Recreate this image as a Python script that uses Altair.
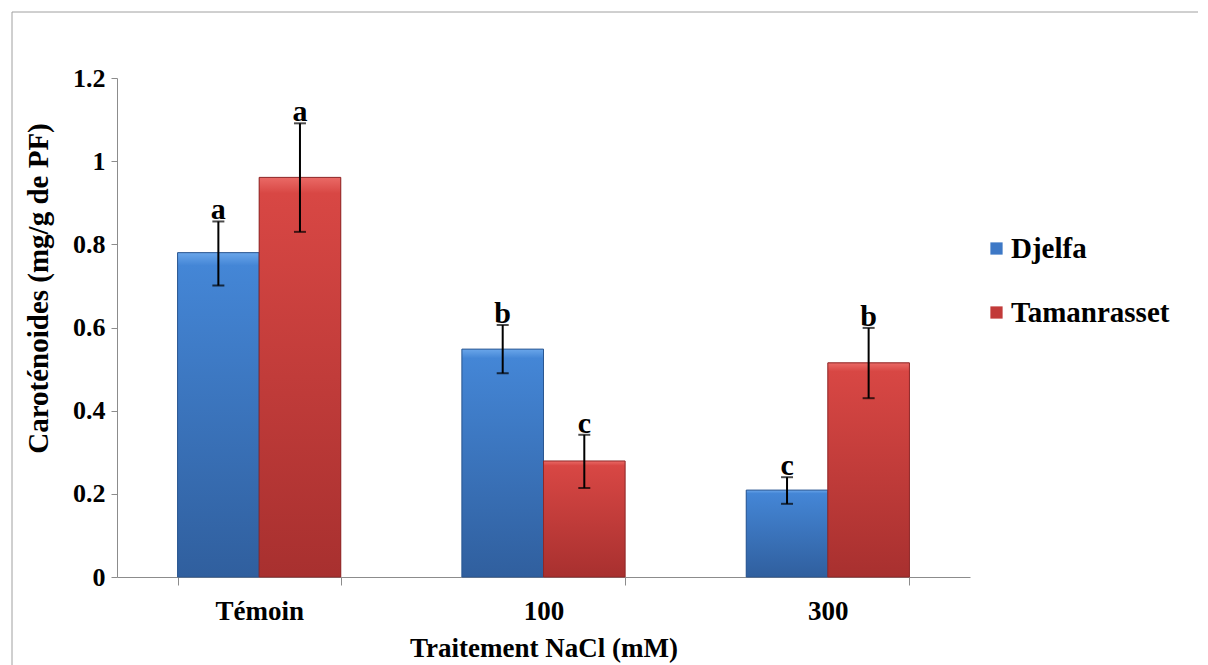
import altair as alt
import pandas as pd

categories = ["Témoin", "100", "300"]
series = ["Djelfa", "Tamanrasset"]
djelfa = [0.78, 0.548, 0.209]
tamanrasset = [0.961, 0.279, 0.515]
djelfa_lo = [0.701, 0.49, 0.176]
djelfa_hi = [0.855, 0.606, 0.24]
tam_lo = [0.830, 0.214, 0.43]
tam_hi = [1.091, 0.342, 0.599]
letters_djelfa = ["a", "b", "c"]
letters_tam = ["a", "c", "b"]
y_ticks = [0, 0.2, 0.4, 0.6, 0.8, 1, 1.2]

rows = []
for i, c in enumerate(categories):
    rows.append(dict(cat=c, series="Djelfa", value=djelfa[i], lo=djelfa_lo[i], hi=djelfa_hi[i], letter=letters_djelfa[i]))
    rows.append(dict(cat=c, series="Tamanrasset", value=tamanrasset[i], lo=tam_lo[i], hi=tam_hi[i], letter=letters_tam[i]))
df = pd.DataFrame(rows)

FONT = "Liberation Serif"
W, H = 853, 499

x_enc = alt.X("cat:N", sort=categories,
              scale=alt.Scale(paddingInner=0.426, paddingOuter=0.213),
              axis=alt.Axis(title="Traitement NaCl (mM)", tickBand="extent", tickSize=8,
                            labelAngle=0, labelPadding=13, titlePadding=11,
                            labelFontSize=27, titleFontSize=27))
xo_enc = alt.XOffset("series:N", sort=series, scale=alt.Scale(paddingInner=0, paddingOuter=0))
y_enc = alt.Y("value:Q", scale=alt.Scale(domain=[0, 1.2], nice=False),
              axis=alt.Axis(title="Caroténoides  (mg/g de PF)", values=y_ticks, format="~g",
                            tickSize=6, labelPadding=6, titlePadding=19, titleY=210,
                            labelFontSize=26, titleFontSize=29))

base = alt.Chart(df)

legend_bars = base.mark_bar().encode(
    x=x_enc, xOffset=xo_enc, y=y_enc,
    color=alt.Color("series:N", sort=series,
                    scale=alt.Scale(domain=series, range=["#3d78c6", "#c23a39"]),
                    legend=alt.Legend(title=None, orient="none", legendX=865, legendY=156,
                                      symbolType="square", symbolSize=150, symbolStrokeWidth=0,
                                      labelFontSize=29, labelFont=FONT, labelFontWeight="bold",
                                      labelColor="black", rowPadding=34, labelOffset=0))
)

def grad(top, mid, bottom):
    return alt.Gradient(gradient="linear", x1=0, x2=0, y1=0, y2=1,
                        stops=[alt.GradientStop(color=top, offset=0),
                               alt.GradientStop(color=mid, offset=0.04),
                               alt.GradientStop(color=bottom, offset=1)])

blue_bars = base.transform_filter(alt.datum.series == "Djelfa").mark_bar(
    fill=grad("#6aa6ea", "#4486d6", "#305f9e"), stroke="#2b5791", strokeWidth=1
).encode(x=x_enc, xOffset=xo_enc, y=y_enc)

red_bars = base.transform_filter(alt.datum.series == "Tamanrasset").mark_bar(
    fill=grad("#ea6a66", "#d84744", "#a8302f"), stroke="#8e2828", strokeWidth=1
).encode(x=x_enc, xOffset=xo_enc, y=y_enc)

ysc = alt.Scale(domain=[0, 1.2], nice=False)
err = base.mark_rule(color="black", strokeWidth=2).encode(
    x=x_enc, xOffset=xo_enc, y=alt.Y("lo:Q", scale=ysc), y2="hi:Q")
cap_hi = base.mark_tick(color="black", thickness=2, size=12, orient="horizontal").encode(
    x=x_enc, xOffset=xo_enc, y=alt.Y("hi:Q", scale=ysc))
cap_lo = base.mark_tick(color="black", thickness=2, size=12, orient="horizontal").encode(
    x=x_enc, xOffset=xo_enc, y=alt.Y("lo:Q", scale=ysc))
letters = base.mark_text(font=FONT, fontWeight="bold", fontSize=30, baseline="alphabetic", dy=-2,
                         color="black").encode(
    x=x_enc, xOffset=xo_enc, y=alt.Y("hi:Q", scale=ysc),
    text="letter:N")

frame_df = pd.DataFrame({"k": [0]})
frame_left = alt.Chart(frame_df).mark_rule(color="#a0a0a0", strokeWidth=1).encode(
    x=alt.value(-105), y=alt.value(-66), y2=alt.value(620))
frame_top = alt.Chart(frame_df).mark_rule(color="#a0a0a0", strokeWidth=1).encode(
    x=alt.value(-105), x2=alt.value(1200), y=alt.value(-66))

chart = alt.layer(legend_bars, blue_bars, red_bars, err, cap_hi, cap_lo, letters, frame_left, frame_top).properties(
    width=W, height=H,
    background="white",
    autosize=alt.AutoSizeParams(type="none"),
    padding={"left": 109, "top": 70, "right": 228, "bottom": 88},
).configure_view(stroke=None).configure_axis(
    grid=False, domainColor="#8c8c8c", tickColor="#8c8c8c", labelColor="black", titleColor="black",
    labelFont=FONT, titleFont=FONT, labelFontWeight="bold", titleFontWeight="bold"
)

chart.save("out.html", embed_options={"renderer": "svg", "actions": False})
